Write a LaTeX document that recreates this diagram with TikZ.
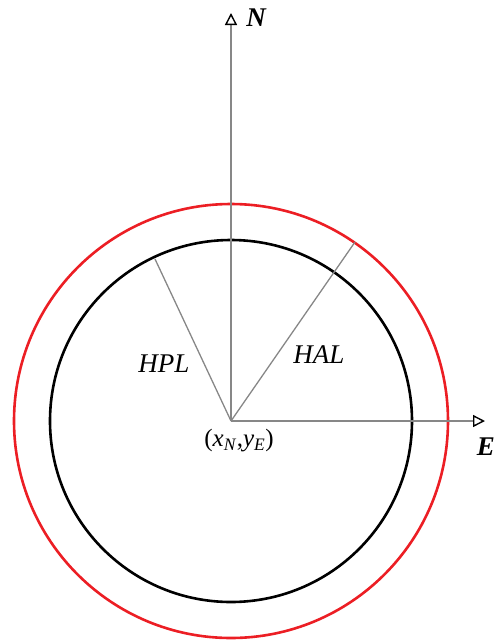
\documentclass[tikz,border=0pt]{standalone}
\usepackage{fontspec}
\setmainfont{Liberation Serif}
\usetikzlibrary{arrows.meta}
\definecolor{ringred}{RGB}{236,30,36}
\definecolor{axgray}{RGB}{135,135,135}
\begin{document}
\begin{tikzpicture}[x=1pt,y=-1pt,
  axis/.style={draw=axgray, line width=1.3pt, -{Triangle[open,length=12pt,width=12pt,line width=1.4pt,color=black,fill=white]}},
  ray/.style={draw=axgray, line width=1.3pt},
  lbl/.style={font=\fontsize{27}{30}\selectfont\itshape, inner sep=0pt},
  axlbl/.style={font=\fontsize{27}{30}\selectfont\bfseries\itshape, inner sep=0pt}]
\useasboundingbox (0,0) rectangle (497,641);
\coordinate (O) at (231,421);
\draw[ringred, line width=2.6pt] (O) circle[radius=217];
\draw[black, line width=2.6pt] (O) circle[radius=181];
\coordinate (Ntip) at (231,13);
\coordinate (Etip) at (485,421);
\coordinate (P) at (155,259);
\coordinate (A) at (355,242);
\draw[ray] (O) -- (P);
\draw[ray] (O) -- (A);
\draw[axis] (O) -- (Ntip);
\draw[axis] (O) -- (Etip);
\node[axlbl] (nl) at (256,18) {N};
\node[axlbl] (el) at (486,447) {E};
\node[lbl, font=\fontsize{25}{28}\selectfont] (c) at (239,441) {(\textit{x}\textsubscript{\textit{N}},\textit{y}\textsubscript{\textit{E}})};
\node[lbl] (hpl) at (164,364) {HPL};
\node[lbl] (hal) at (319,355) {HAL};
\end{tikzpicture}
\end{document}
